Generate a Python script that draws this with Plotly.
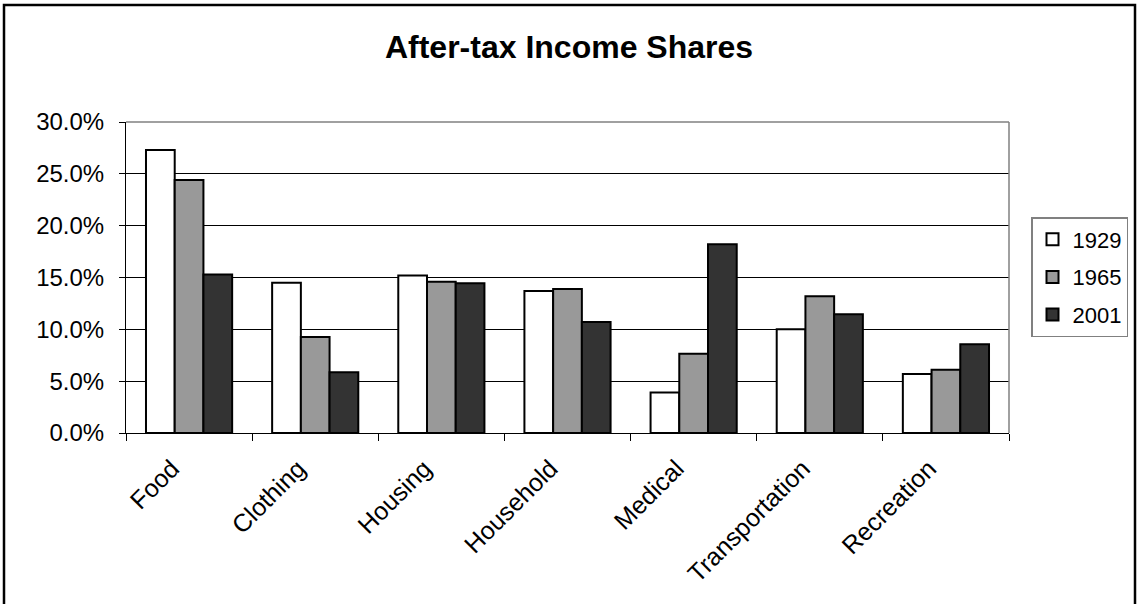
import plotly.graph_objects as go

# Spending categories and their after-tax income shares by year
categories = ["Food", "Clothing", "Housing", "Household", "Medical", "Transportation", "Recreation"]
years = ["1929", "1965", "2001"]
share_1929 = [0.273, 0.145, 0.152, 0.137, 0.039, 0.100, 0.057]
share_1965 = [0.244, 0.0925, 0.146, 0.139, 0.0765, 0.132, 0.061]
share_2001 = [0.153, 0.0585, 0.1445, 0.107, 0.182, 0.1145, 0.0855]
fill_colors = ["#ffffff", "#999999", "#333333"]

W, H = 1138, 604
L, R, T, B = 126, 129, 122, 171  # margins: plot area spans x 126..1009, y 122..433
pw, ph = W - L - R, H - T - B

fig = go.Figure()
for i, (yr, vals) in enumerate(zip(years, [share_1929, share_1965, share_2001])):
    fig.add_trace(go.Bar(
        name=yr, x=categories, y=vals,
        marker=dict(color=fill_colors[i], line=dict(color="#000000", width=2)),
        legendgroup=yr,
    ))

def px_x(px):
    return (px - L) / pw

def px_y(py):
    return (H - B - py) / ph

fig.update_layout(
    width=W, height=H,
    margin=dict(l=L, r=R, t=T, b=B, pad=0, autoexpand=False),
    paper_bgcolor="#ffffff", plot_bgcolor="#ffffff",
    barmode="group", bargap=0.317, bargroupgap=0,
    font=dict(family="Liberation Sans, Arial, sans-serif", color="#000000", size=22),
    title=dict(text="<b>After-tax Income Shares</b>", x=0.5, xanchor="center",
               y=1 - 47 / H, yanchor="middle", yref="container",
               font=dict(size=32, color="#000000")),
    legend=dict(x=px_x(1031), y=px_y(217), xanchor="left", yanchor="top",
                bordercolor="#808080", borderwidth=1.5, bgcolor="#ffffff",
                font=dict(size=22), traceorder="grouped", tracegroupgap=6,
                itemwidth=30),
    showlegend=True,
    xaxis=dict(showgrid=False, showline=True, linecolor="#000000", linewidth=1,
               ticks="outside", tickson="boundaries", ticklen=7, tickcolor="#000000",
               tickangle=-45, tickfont=dict(size=25), zeroline=False,
               ticklabelstandoff=10, ticklabelshift=-17),
    yaxis=dict(range=[0, 0.30], dtick=0.05, tickformat=".1%",
               showgrid=True, gridcolor="#000000", gridwidth=1,
               showline=True, linecolor="#000000", linewidth=1,
               ticks="outside", ticklen=6, tickcolor="#000000",
               tickfont=dict(size=24), zeroline=False, ticklabelstandoff=10),
    shapes=[
        # right edge of the plot area
        dict(type="line", xref="paper", yref="paper", x0=1, x1=1, y0=0, y1=1,
             line=dict(color="#808080", width=1.5)),
        # top edge of the plot area
        dict(type="line", xref="paper", yref="paper", x0=0, x1=1, y0=1, y1=1,
             line=dict(color="#808080", width=1.5)),
        # chart frame
        dict(type="rect", xref="paper", yref="paper",
             x0=px_x(4), x1=px_x(1135), y0=px_y(620), y1=px_y(5),
             line=dict(color="#000000", width=2.5), fillcolor="rgba(0,0,0,0)"),
    ],
)

fig.write_html("out.html")
